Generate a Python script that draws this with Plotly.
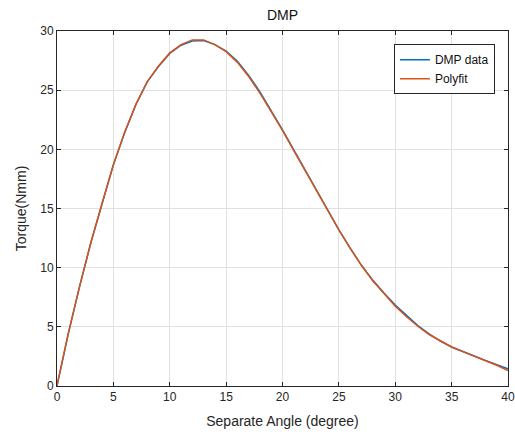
import plotly.graph_objects as go

angle = list(range(0, 41))
dmp_data = [0.0, 4.4, 8.4, 12.1, 15.4, 18.7, 21.4, 23.8, 25.7, 27.0,
            28.1, 28.8, 29.15, 29.2, 28.85, 28.3, 27.45, 26.25, 24.85, 23.3,
            21.65, 19.95, 18.25, 16.55, 14.85, 13.2, 11.65, 10.2, 8.95, 7.85,
            6.85, 5.95, 5.1, 4.4, 3.8, 3.3, 2.9, 2.5, 2.15, 1.8, 1.45]
polyfit = [0.05, 4.45, 8.4, 12.1, 15.45, 18.7, 21.45, 23.8, 25.7, 27.05,
           28.15, 28.85, 29.25, 29.25, 28.85, 28.25, 27.35, 26.15, 24.75, 23.2,
           21.6, 19.9, 18.2, 16.5, 14.85, 13.2, 11.65, 10.2, 8.9, 7.8,
           6.75, 5.85, 5.05, 4.35, 3.8, 3.3, 2.9, 2.52, 2.15, 1.75, 1.3]

x_ticks = [0, 5, 10, 15, 20, 25, 30, 35, 40]
y_ticks = [0, 5, 10, 15, 20, 25, 30]

font_family = "Liberation Sans, Arial, sans-serif"
axis_color = "#262626"
grid_color = "#e0e0e0"

fig = go.Figure()
fig.add_trace(go.Scatter(x=angle, y=dmp_data, mode="lines", name="DMP data",
                         line=dict(color="#0072BD", width=1.5)))
fig.add_trace(go.Scatter(x=angle, y=polyfit, mode="lines", name="Polyfit",
                         line=dict(color="#D95319", width=1.5)))

fig.update_layout(
    width=515, height=435,
    margin=dict(l=57, r=7, t=31, b=49),
    paper_bgcolor="white", plot_bgcolor="white",
    font=dict(family=font_family, size=12, color=axis_color),
    title=dict(text="DMP", x=0.5, xref="paper", y=1 - 15 / 435, yanchor="middle",
               font=dict(size=14, color="#111111")),
    showlegend=True,
    legend=dict(x=0.971, y=0.963, xanchor="right", yanchor="top",
                bgcolor="white", bordercolor="#262626", borderwidth=1,
                font=dict(size=12, color="#111111"),
                tracegroupgap=0),
    xaxis=dict(range=[0, 40], tickvals=x_ticks, showgrid=True, gridcolor=grid_color,
               gridwidth=1, zeroline=False, showline=True, linecolor=axis_color,
               linewidth=1, mirror="ticks", ticks="inside", ticklen=4,
               tickcolor=axis_color, automargin=False,
               title=dict(text="Separate Angle (degree)", font=dict(size=14), standoff=12)),
    yaxis=dict(range=[0, 30], tickvals=y_ticks, showgrid=True, gridcolor=grid_color,
               gridwidth=1, zeroline=False, showline=True, linecolor=axis_color,
               linewidth=1, mirror="ticks", ticks="inside", ticklen=4,
               tickcolor=axis_color, automargin=False,
               title=dict(text="Torque(Nmm)", font=dict(size=14), standoff=10)),
)

fig.write_html("out.html", config={"displayModeBar": False},
               post_script="document.body.style.margin='0';")
